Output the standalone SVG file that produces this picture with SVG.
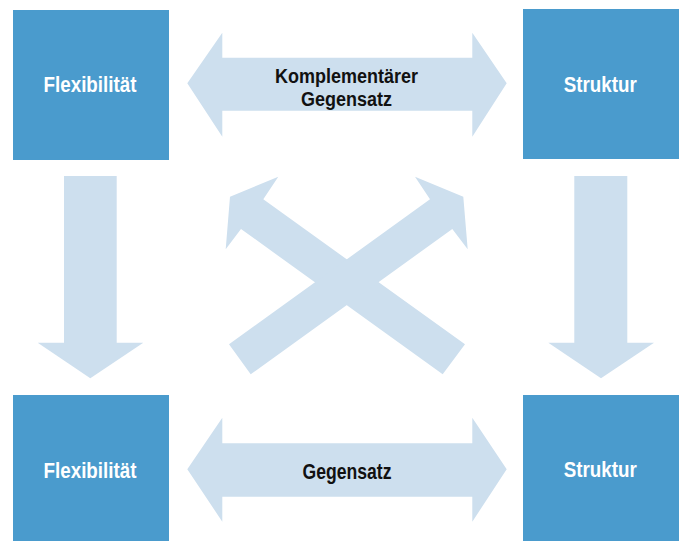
<svg xmlns="http://www.w3.org/2000/svg" width="684" height="541" viewBox="0 0 684 541">
<style>
.box{fill:#4a9bcd}
.arr{fill:#cddfee}
.bt{fill:#ffffff;font-family:"Liberation Sans Narrow","Liberation Sans",Arial,sans-serif;font-weight:bold;font-size:22px;text-anchor:middle}
.at{fill:#111111;font-family:"Liberation Sans Narrow","Liberation Sans",Arial,sans-serif;font-weight:bold;font-size:20px;text-anchor:middle}
</style>
<rect width="684" height="541" fill="#ffffff"/>
<g id="connectors">
<polygon class="arr" points="187.3,83.3 222.3,32.7 222.3,57.7 472.3,57.7 472.3,32.7 506.7,83.3 472.3,136.7 472.3,110.7 222.3,110.7 222.3,136.7"/>
<polygon class="arr" points="187.3,469.3 222.3,417.7 222.3,443.3 472.3,443.3 472.3,417.7 506.7,469.3 472.3,521.7 472.3,496.7 222.3,496.7 222.3,521.7"/>
<polygon class="arr" points="64,176 116.7,176 116.7,342.7 143.3,342.7 90.3,378.3 37.7,342.7 64,342.7"/>
<polygon class="arr" points="574.3,176 627.3,176 627.3,342.7 654,342.7 601,378.3 548.3,342.7 574.3,342.7"/>
<polygon class="arr" points="465,344.3 442.7,374.3 241,229 225.7,249.3 230,196.7 278.3,176.7 263.3,199.3"/>
<polygon class="arr" points="229,344.3 250.7,374.3 452.3,229 467.7,249.3 463.3,196.7 415,176.7 430,199.3"/>
<text class="at" x="346.5" y="82.5" textLength="143" lengthAdjust="spacingAndGlyphs">Komplementärer</text>
<text class="at" x="346.5" y="105.5" textLength="91" lengthAdjust="spacingAndGlyphs">Gegensatz</text>
<text class="at" x="347" y="478.5" textLength="89" lengthAdjust="spacingAndGlyphs" style="font-size:22px">Gegensatz</text>
</g>
<g id="node-flex-top"><rect class="box" x="13" y="10" width="156" height="150"/><text class="bt" x="90" y="92.3" textLength="93" lengthAdjust="spacingAndGlyphs">Flexibilität</text></g>
<g id="node-struktur-top"><rect class="box" x="523" y="9" width="156" height="150"/><text class="bt" x="600.3" y="91.7" textLength="73" lengthAdjust="spacingAndGlyphs">Struktur</text></g>
<g id="node-flex-bottom"><rect class="box" x="13" y="395" width="156" height="146"/><text class="bt" x="90" y="477.7" textLength="93" lengthAdjust="spacingAndGlyphs">Flexibilität</text></g>
<g id="node-struktur-bottom"><rect class="box" x="523" y="395" width="156" height="146"/><text class="bt" x="600.3" y="476.7" textLength="73" lengthAdjust="spacingAndGlyphs">Struktur</text></g>
</svg>
